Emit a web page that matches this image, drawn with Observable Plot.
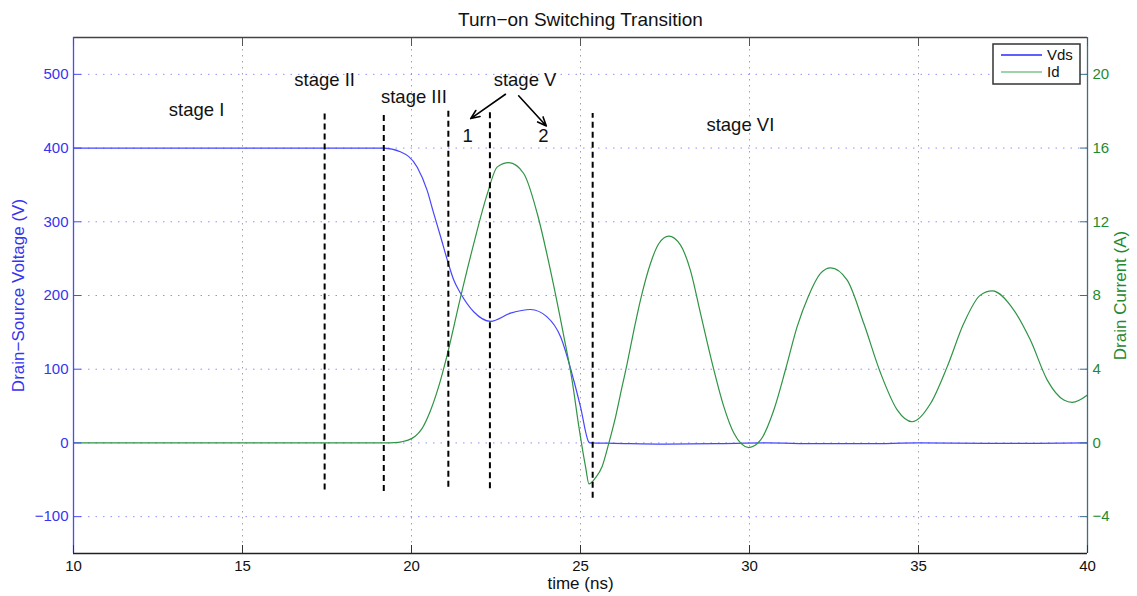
<!DOCTYPE html>
<html><head><meta charset="utf-8">
<script src="https://cdn.jsdelivr.net/npm/d3@7"></script>
<script src="https://cdn.jsdelivr.net/npm/@observablehq/plot@0.6"></script>
<style>
body{margin:0;background:#fff;}
#chart{position:relative;width:1137px;height:596px;}
</style></head><body><div id="chart"></div>
<script>
// ---- data ----
const tVds = [10,19.18,19.67,20.17,20.46,20.66,20.86,21.06,21.25,21.45,21.84,22.34,22.93,23.52,24.01,24.41,24.80,25.0,25.25,25.3,26,27.5,29,30.5,32,33.5,35,37,38.5,40];
const vds  = [400,400,395,374,343,311,280,248,221,203,178,165,176,181,171,144,85,49,1,0,-0.5,-1.5,-1,0,-1,-1,0,-0.5,-0.5,0];

const tId = [10,19.2,19.5,19.7,19.9,20.1,20.3,20.56,20.86,21.06,21.45,21.84,22.24,22.54,22.88,23.32,23.72,24.11,24.51,24.75,24.95,25.15,25.25,25.44,25.64,25.84,26.04,26.23,26.38,26.58,26.80,27.07,27.32,27.61,27.96,28.25,28.55,28.94,29.24,29.54,29.98,30.33,30.72,31.07,31.41,31.74,32.10,32.40,32.89,33.38,33.88,34.37,34.81,35.36,35.85,36.34,36.83,37.18,37.82,38.31,38.81,39.30,39.55,40];
const idA = [0,0,0.02,0.06,0.15,0.35,0.75,1.75,3.41,4.8,7.9,10.8,13.5,14.98,15.21,14.62,12.45,9.38,5.76,3.41,0.9,-1.3,-2.22,-1.9,-1.28,0,1.43,3.05,4.3,6.12,7.95,9.74,10.82,11.22,10.73,9.38,7.03,4.01,1.97,0.52,-0.25,0.16,1.79,4.01,6.31,7.95,9.2,9.5,8.83,6.49,3.78,1.79,1.15,2.15,4.14,6.49,8.02,8.25,7.21,5.58,3.41,2.33,2.2,2.6];

const xTicks = [10,15,20,25,30,35,40];
const xGrid = [15,20,25,30,35];
const vTicks = [-100,0,100,200,300,400,500];
const idTicks = [-4,0,4,8,12,16,20];
const xDomain = [10,40];
const vDomain = [-150,550];
const voltsPerAmp = 25; // right axis: 16 A aligns with 400 V

// stage boundaries (dashed lines)
const stageT      = [17.43,19.18,21.09,22.32,25.36];
const stageTop    = [448,447,454,451,447];
const stageBottom = [-64,-66,-60,-62,-75];

// annotation labels
const labelText = ["stage I","stage II","stage III","stage V","1","2","stage VI"];
const labelT    = [13.64,17.43,20.07,23.36,21.66,23.90,29.73];
const labelV    = [451,492,469,492,416,416,431];

// arrows from "stage V"
const arrowT1 = [22.78,23.17];
const arrowV1 = [473,471];
const arrowT2 = [21.75,23.99];
const arrowV2 = [440,430];

const title = "Turn\u2212on Switching Transition";
const xLabel = "time (ns)";
const yLabelLeft = "Drain\u2212Source Voltage (V)";
const yLabelRight = "Drain Current (A)";
const seriesNames = ["Vds","Id"];

// ---- build ----
const FONT = "'Liberation Sans', Arial, Helvetica, sans-serif";
const BLUE = "#4646ff", GREEN = "#2f9444";
const fmt = d => String(d).replace("-", "\u2212");
const vdsData = tVds.map((t,i)=>({t, v: vds[i]}));
const idData = tId.map((t,i)=>({t, a: idA[i]}));
const idx = (arr) => arr.map((_,i)=>i);

const chart = Plot.plot({
  width: 1137, height: 596,
  marginLeft: 73, marginRight: 50, marginTop: 37, marginBottom: 43,
  style: {fontFamily: FONT, background: "white", overflow: "visible"},
  x: {domain: xDomain, axis: null},
  y: {domain: vDomain, axis: null},
  marks: [
    Plot.gridX(xGrid, {stroke: "#999", strokeOpacity: 0.9, strokeDasharray: "1.5,4.5"}),
    Plot.gridY(vTicks, {stroke: "#6b6bff", strokeOpacity: 0.75, strokeDasharray: "1.5,6"}),
    Plot.line(vdsData, {x: "t", y: "v", stroke: BLUE, strokeWidth: 1.2, curve: "monotone-x"}),
    Plot.line(idData, {x: "t", y: d => d.a * voltsPerAmp, stroke: GREEN, strokeWidth: 1.2, curve: "monotone-x"}),
    Plot.ruleX(idx(stageT), {x: i => stageT[i], y1: i => stageBottom[i], y2: i => stageTop[i], stroke: "#000", strokeWidth: 2, strokeDasharray: "6,4"}),
    Plot.arrow(idx(arrowT1), {x1: i => arrowT1[i], y1: i => arrowV1[i], x2: i => arrowT2[i], y2: i => arrowV2[i], stroke: "#000", strokeWidth: 1.6, headLength: 9, headAngle: 45}),
    Plot.text(idx(labelText), {x: i => labelT[i], y: i => labelV[i], text: i => labelText[i], fontSize: 18.5, fill: "#111"}),
    // frame
    Plot.ruleY([vDomain[0]], {stroke: "#222", strokeWidth: 1.5}),
    Plot.ruleY([vDomain[1]], {stroke: "#444", strokeWidth: 1.5}),
    Plot.ruleX([xDomain[0]], {stroke: "#4a4aff", strokeWidth: 1.3}),
    Plot.ruleX([xDomain[1]], {stroke: "#3a6f86", strokeWidth: 1.3}),
    // axes
    Plot.axisX(xTicks, {anchor: "bottom", label: null, tickSize: -8, tickPadding: 15, fontSize: 15, stroke: "#333", fill: "#111", tickFormat: fmt}),
    Plot.axisX(xTicks, {anchor: "top", label: null, tickSize: -8, tickFormat: () => "", stroke: "#555"}),
    Plot.axisY(vTicks, {anchor: "left", label: null, tickSize: -8, tickPadding: 13, fontSize: 15, stroke: "#4a4aff", fill: "#3535f0", tickFormat: fmt}),
    Plot.axisY(idTicks.map(d => d * voltsPerAmp), {anchor: "right", label: null, tickSize: -8, tickPadding: 13, fontSize: 15, stroke: "#3a6f86", fill: "#1f8a30", tickFormat: d => fmt(d / voltsPerAmp)}),
    // titles
    Plot.text([title], {frameAnchor: "top", dy: -18, lineAnchor: "middle", textAnchor: "middle", fontSize: 19, fill: "#111"}),
    Plot.text([xLabel], {frameAnchor: "bottom", dy: 30, lineAnchor: "middle", textAnchor: "middle", fontSize: 17, fill: "#111"}),
    Plot.text([yLabelLeft], {frameAnchor: "left", dx: -55, rotate: -90, lineAnchor: "middle", textAnchor: "middle", fontSize: 17, fill: "#3535f0"}),
    Plot.text([yLabelRight], {frameAnchor: "right", dx: 33, rotate: -90, lineAnchor: "middle", textAnchor: "middle", fontSize: 17, fill: "#1f8a30"})
  ]
});
document.getElementById("chart").appendChild(chart);

// legend box (top-right, inside the frame)
const svg = d3.select(chart);
const lg = svg.append("g").attr("transform", "translate(993,44)").style("font-family", FONT).attr("text-anchor", "start");
lg.append("rect").attr("width", 87).attr("height", 40).attr("fill", "white").attr("stroke", "#333").attr("stroke-width", 1.5);
[BLUE, GREEN].forEach((c, i) => {
  const y = 11 + i * 17;
  lg.append("line").attr("x1", 8).attr("x2", 49).attr("y1", y).attr("y2", y).attr("stroke", i === 0 ? "#2a2aff" : "#7cc48b").attr("stroke-width", 1.3);
  lg.append("text").attr("x", 54).attr("y", y).attr("dy", "0.35em").attr("font-size", 15).attr("fill", "#111").attr("text-anchor", "start").text(seriesNames[i]);
});
</script></body></html>
